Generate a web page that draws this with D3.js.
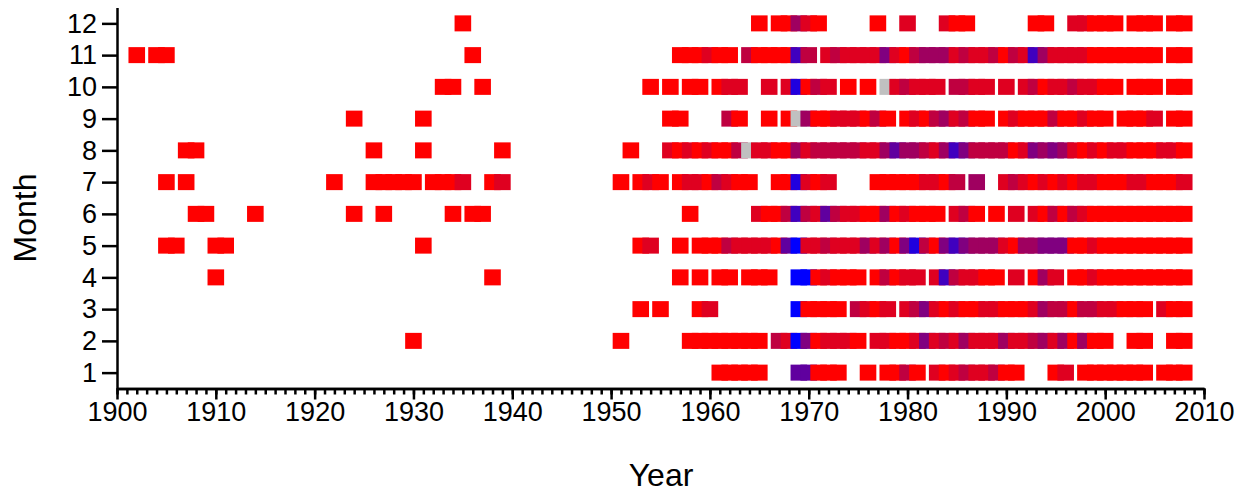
<!DOCTYPE html>
<meta charset="utf-8">
<title>Month / Year chart</title>
<style>
body { margin: 0; background: #fff; }
svg { font-family: "Liberation Sans", Arial, sans-serif; }
.axis path, .axis line { stroke: #000; stroke-width: 2.5; }
.axis text { font-size: 27px; fill: #000; }
.label { font-size: 32px; fill: #000; }
</style>
<body>
<svg id="chart" width="1246" height="495"></svg>

<script src="https://d3js.org/d3.v7.min.js"></script>
<script>

// runs of consecutive years for each month: [first year, one code per year]
// code 0..8 goes from red to blue, "g" is grey
var month1  = [[1961,"00000"],[1969,"55000"],[1976,"0"],[1978,"0020"],[1983,"101211200"],[1995,"01"],[1998,"0000000"],[2006,"000"]];
var month2  = [[1930,"0"],[1951,"0"],[1958,"00000000"],[1967,"218401110"],[1977,"110014121311131123130300"],[2003,"00"],[2007,"00"]];
var month3  = [[1953,"0"],[1955,"0"],[1959,"01"],[1969,"80000"],[1975,"2101"],[1980,"1241010011000132202211000"],[2006,"100"]];
var month4  = [[1910,"0"],[1938,"0"],[1957,"0"],[1959,"0"],[1961,"00"],[1964,"000"],[1969,"8801000"],[1977,"02011"],[1983,"1621100"],[1991,"1"],[1993,"031"],[1997,"001000000000"]];
var month5  = [[1905,"00"],[1910,"00"],[1931,"0"],[1953,"01"],[1957,"0"],[1959,"00021111058112111313047204643331033444001000000000"]];
var month6  = [[1908,"00"],[1914,"0"],[1924,"0"],[1927,"0"],[1934,"0"],[1936,"00"],[1958,"0"],[1965,"1002621521100301000"],[1985,"120"],[1989,"0"],[1991,"1"],[1993,"1020210000000000"]];
var month7  = [[1905,"0"],[1907,"0"],[1922,"0"],[1926,"00000"],[1932,"0001"],[1938,"01"],[1951,"0"],[1953,"010"],[1957,"01102100"],[1967,"007101"],[1977,"000001102"],[1987,"3"],[1990,"1210101011000110001"]];
var month8  = [[1907,"00"],[1926,"0"],[1931,"0"],[1939,"0"],[1952,"0"],[1956,"10101002g11003122222113533213642222014343101011000110"]];
var month9  = [[1924,"0"],[1931,"0"],[1956,"00"],[1962,"20"],[1966,"0"],[1968,"0g300111020"],[1980,"010231200"],[1990,"01000200100"],[2002,"0001"],[2007,"00"]];
var month10 = [[1933,"00"],[1937,"0"],[1954,"0"],[1956,"0"],[1958,"00"],[1961,"011"],[1966,"1"],[1968,"17021"],[1974,"0"],[1976,"0"],[1978,"g12111"],[1985,"2211"],[1990,"1"],[1992,"1201121100"],[2003,"000"],[2007,"00"]];
var month11 = [[1902,"0"],[1904,"00"],[1936,"0"],[1957,"000100"],[1964,"2000062"],[1972,"121111410233312112021631111"],[1999,"0000000"],[2007,"00"]];
var month12 = [[1935,"0"],[1965,"0"],[1967,"00310"],[1977,"0"],[1980,"1"],[1984,"100"],[1993,"00"],[1997,"11000"],[2003,"000"],[2007,"00"]];

var monthRuns = [month1, month2, month3, month4, month5, month6, month7, month8, month9, month10, month11, month12];
var monthTicks = d3.range(1, 13);
var decadeTicks = d3.range(1900, 2011, 10);
var yearTicks = d3.range(1900, 2011, 1);

// flatten runs into single cells
var cells = [];
monthRuns.forEach(function(runs, i) {
  runs.forEach(function(r) {
    r[1].split("").forEach(function(c, k) {
      cells.push({month: i + 1, year: r[0] + k, code: c});
    });
  });
});
cells.sort(function(a, b) { return a.year - b.year; });

var svg = d3.select("#chart");

var x = d3.scaleLinear().domain([1900, 2010]).range([117, 1204]);
var y = d3.scaleLinear().domain([0.5, 12.5]).range([388.5, 7.5]);
var colour = d3.scaleLinear().domain([0, 8]).range(["#ff0000", "#0000ff"]);

var cw = 16.6, ch = 16;

svg.append("g")
  .selectAll("rect")
  .data(cells)
  .enter().append("rect")
    .attr("x", function(d) { return x(d.year) - cw / 2; })
    .attr("y", function(d) { return y(d.month) - ch / 2; })
    .attr("width", cw)
    .attr("height", ch)
    .attr("fill", function(d) { return d.code == "g" ? "#c0c0c0" : colour(+d.code); });

// minor year ticks
svg.append("g")
  .attr("class", "axis")
  .attr("transform", "translate(0,388.5)")
  .call(d3.axisBottom(x).tickValues(yearTicks).tickSize(6).tickSizeOuter(0).tickFormat(""));

// decade ticks with labels
svg.append("g")
  .attr("class", "axis")
  .attr("transform", "translate(0,388.5)")
  .call(d3.axisBottom(x).tickValues(decadeTicks).tickSize(11).tickSizeOuter(0).tickPadding(2).tickFormat(d3.format("d")));

svg.append("g")
  .attr("class", "axis")
  .attr("transform", "translate(117,0)")
  .call(d3.axisLeft(y).tickValues(monthTicks).tickSize(15).tickSizeOuter(0).tickPadding(5));

svg.append("text")
  .attr("class", "label")
  .attr("x", 661)
  .attr("y", 486)
  .attr("text-anchor", "middle")
  .text("Year");

svg.append("text")
  .attr("class", "label")
  .attr("transform", "translate(36,218) rotate(-90)")
  .attr("text-anchor", "middle")
  .text("Month");

</script>
